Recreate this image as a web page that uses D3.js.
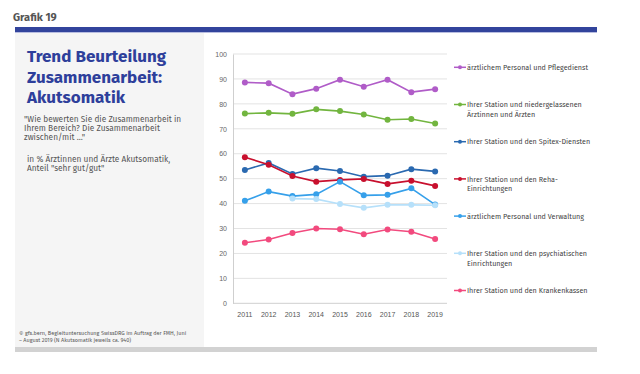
<!DOCTYPE html>
<html><head><meta charset="utf-8">
<script src="https://cdn.jsdelivr.net/npm/d3@7"></script>
<style>
html,body{margin:0;padding:0;background:#fff;}
svg{display:block;font-family:"Fira Sans","Roboto","Open Sans",sans-serif;}
</style></head>
<body><svg id="c" width="640" height="374"></svg>
<script>
const years = ["2011","2012","2013","2014","2015","2016","2017","2018","2019"];
const yTicks = [0,10,20,30,40,50,60,70,80,90,100];
const seriesNames = [
  ["ärztlichem Personal und Pflegedienst"],
  ["Ihrer Station und niedergelassenen","Ärztinnen und Ärzten"],
  ["Ihrer Station und den Spitex-Diensten"],
  ["Ihrer Station und den Reha-","Einrichtungen"],
  ["ärztlichem Personal und Verwaltung"],
  ["Ihrer Station und den psychiatischen","Einrichtungen"],
  ["Ihrer Station und den Krankenkassen"]
];
const pflegedienst   = [88.6,88.3,83.9,86.1,89.7,86.9,89.7,84.7,85.9];
const niedergelassen = [76.1,76.4,76.0,77.8,77.1,75.7,73.6,73.9,72.1];
const spitex         = [53.5,56.3,51.9,54.2,53.1,50.8,51.2,53.8,52.9];
const reha           = [58.6,55.6,51.1,48.8,49.5,49.9,47.9,49.2,47.1];
const verwaltung     = [41.1,44.8,43.0,43.7,48.8,43.3,43.5,46.1,39.6];
const psychiatrie    = [null,null,42.0,41.8,39.8,38.3,39.5,39.5,39.3];
const krankenkassen  = [24.3,25.6,28.2,30.0,29.7,27.7,29.6,28.7,25.8];
const seriesValues = [pflegedienst,niedergelassen,spitex,reha,verwaltung,psychiatrie,krankenkassen];
const colors = ["#b05cc8","#72b53f","#2a69b0","#c8102e","#36a0ea","#b6e0fa","#f24a7e"];

const svg = d3.select("#c");
// header
svg.append("text").attr("x",13).attr("y",21).attr("font-size",11).attr("font-weight","bold")
  .attr("fill","#555").text("Grafik 19");
svg.append("rect").attr("x",15).attr("y",27).attr("width",582).attr("height",5).attr("fill","#32449c");
svg.append("rect").attr("x",15).attr("y",32).attr("width",582).attr("height",1).attr("fill","#b8bde0");
// left panel
svg.append("rect").attr("x",15).attr("y",33).attr("width",189).attr("height",314).attr("fill","#f5f5f5");
svg.append("rect").attr("x",15).attr("y",347).attr("width",582).attr("height",5).attr("fill","#d2d2d2");

const title = ["Trend Beurteilung","Zusammenarbeit:","Akutsomatik"];
svg.append("g").selectAll("text").data(title).join("text")
  .attr("x",27).attr("y",(d,i)=>61.7+i*20.8).attr("font-size",17).attr("font-weight","bold")
  .attr("fill","#2e3f9b").text(d=>d);
const sub = ['"Wie bewerten Sie die Zusammenarbeit in','Ihrem Bereich? Die Zusammenarbeit','zwischen/mit ..."'];
svg.append("g").selectAll("text").data(sub).join("text")
  .attr("x",24).attr("y",(d,i)=>121.5+i*9.4).attr("font-size",8.3).attr("fill","#555").text(d=>d);
const sub2 = ['in % Ärztinnen und Ärzte Akutsomatik,','Anteil "sehr gut/gut"'];
svg.append("g").selectAll("text").data(sub2).join("text")
  .attr("x",27).attr("y",(d,i)=>161.5+i*9.4).attr("font-size",8.3).attr("fill","#555").text(d=>d);
const foot = ["© gfs.bern, Begleituntersuchung SwissDRG im Auftrag der FMH, Juni","– August 2019 (N Akutsomatik jeweils ca. 940)"];
svg.append("g").selectAll("text").data(foot).join("text")
  .attr("x",19).attr("y",(d,i)=>335+i*7).attr("font-size",5.5).attr("fill","#555").text(d=>d);

// chart
const x = d3.scaleBand().domain(years).range([233,447]);
const y = d3.scaleLinear().domain([0,100]).range([303.3,54]);
const cx = d => x(d)+x.bandwidth()/2;

const grid = svg.append("g");
grid.selectAll("line").data(yTicks).join("line")
  .attr("x1",233).attr("x2",447).attr("y1",d=>y(d)).attr("y2",d=>y(d))
  .attr("stroke",d=>d===0?"#cfcfcf":"#e3e3e3").attr("stroke-width",1);

const yAxis = svg.append("g").attr("transform","translate(233,0)")
  .call(d3.axisLeft(y).tickValues(yTicks).tickSize(0).tickPadding(6));
yAxis.select(".domain").attr("stroke","#cfcfcf");
yAxis.selectAll("text").attr("font-size",7).attr("fill","#666").attr("font-family","inherit");

const xAxis = svg.append("g").attr("transform","translate(0,303.3)")
  .call(d3.axisBottom(x).tickSize(0).tickPadding(9));
xAxis.select(".domain").remove();
xAxis.selectAll("text").attr("font-size",7).attr("fill","#555").attr("font-family","inherit");

const line = d3.line().defined(d=>d.v!=null).x(d=>cx(d.yr)).y(d=>y(d.v));
seriesValues.forEach((vals,si)=>{
  const pts = years.map((yr,i)=>({yr,v:vals[i]}));
  const g = svg.append("g");
  g.append("path").attr("d",line(pts)).attr("fill","none").attr("stroke",colors[si]).attr("stroke-width",1.6);
  g.selectAll("circle").data(pts.filter(p=>p.v!=null)).join("circle")
    .attr("cx",d=>cx(d.yr)).attr("cy",d=>y(d.v)).attr("r",3).attr("fill",colors[si]);
});

// legend
const leg = svg.append("g");
seriesNames.forEach((lines,i)=>{
  const ly = 67.3 + i*37.2;
  const g = leg.append("g");
  g.append("line").attr("x1",454).attr("x2",466).attr("y1",ly).attr("y2",ly).attr("stroke",colors[i]).attr("stroke-width",1.5);
  g.append("circle").attr("cx",460).attr("cy",ly).attr("r",2).attr("fill",colors[i]);
  g.selectAll("text").data(lines).join("text")
    .attr("x",467).attr("y",(d,j)=>ly+2.6+j*9.7).attr("font-size",7.2).attr("fill","#444").text(d=>d);
});
</script></body></html>
